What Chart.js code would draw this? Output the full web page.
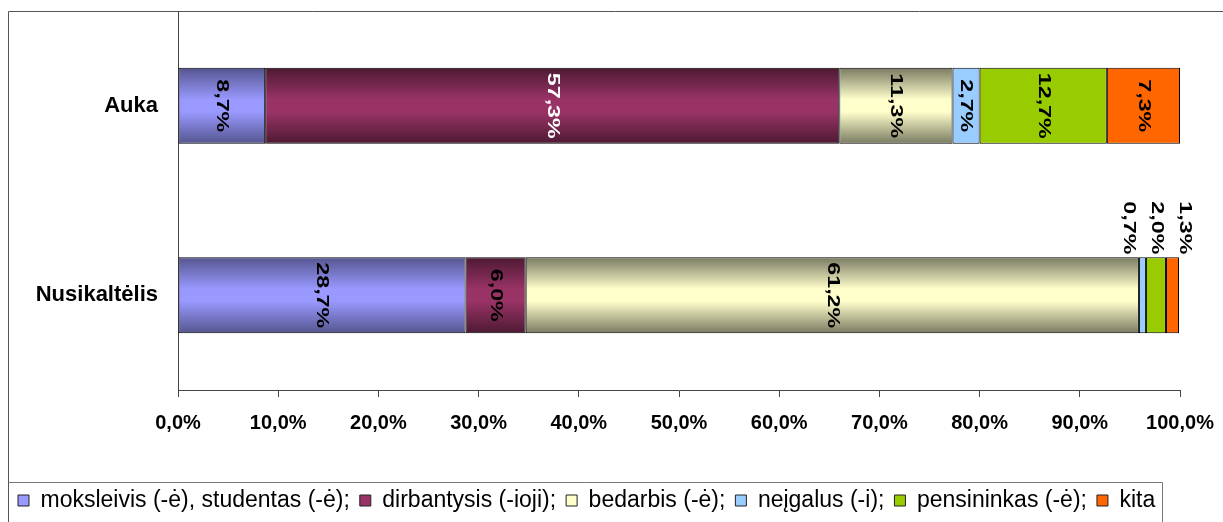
<!DOCTYPE html>
<html>
<head>
<meta charset="utf-8">
<script src="https://cdn.jsdelivr.net/npm/chart.js@4.4.1/dist/chart.umd.min.js"></script>
<style>
  html, body { margin: 0; padding: 0; background: #fff; }
  canvas { display: block; }
</style>
</head>
<body>
<canvas id="bar-chart" width="1223" height="522"></canvas>
<script>
const categories = ["Auka", "Nusikaltėlis"];
const seriesNames = [
  "moksleivis (-ė), studentas (-ė)",
  "dirbantysis (-ioji)",
  "bedarbis (-ė)",
  "neįgalus (-i)",
  "pensininkas (-ė)",
  "kita"
];
const moksleivis = [8.7, 28.7];
const dirbantysis = [57.3, 6.0];
const bedarbis = [11.3, 61.2];
const neigalus = [2.7, 0.7];
const pensininkas = [12.7, 2.0];
const kita = [7.3, 1.3];
const xTicks = [0, 10, 20, 30, 40, 50, 60, 70, 80, 90, 100];

const FONT = "'Liberation Sans', Arial, sans-serif";
// base colour + darker edge colour for the shaded bars (null = flat)
const colors = ["#9999FF", "#993366", "#FFFFCC", "#99CCFF", "#99CC00", "#FF6600"];
const edges = ["#55558f", "#4d1a33", "#7a7a62", null, null, null];

function fmt(v) {
  return v.toFixed(1).replace('.', ',') + '%';
}

function shaded(i) {
  return function (ctx) {
    const chart = ctx.chart;
    const y = chart.scales.y;
    if (!edges[i] || !y || !chart.chartArea) return colors[i];
    const c = y.getPixelForValue(ctx.dataIndex);
    const h = (y.height / categories.length) * 0.4;
    const g = chart.ctx.createLinearGradient(0, c - h / 2, 0, c + h / 2);
    g.addColorStop(0, edges[i]);
    g.addColorStop(0.42, colors[i]);
    g.addColorStop(0.58, colors[i]);
    g.addColorStop(1, edges[i]);
    return g;
  };
}

// frame round the chart and box round the legend
const framePlugin = {
  id: 'frame',
  beforeDraw(chart) {
    const c = chart.ctx;
    c.save();
    c.fillStyle = '#fff';
    c.fillRect(0, 0, chart.width, chart.height);
    c.strokeStyle = '#555';
    c.lineWidth = 1;
    c.beginPath();
    c.moveTo(8.5, chart.height);
    c.lineTo(8.5, 11.5);
    c.lineTo(chart.width, 11.5);
    c.stroke();
    c.strokeStyle = '#777';
    c.beginPath();
    c.moveTo(8.5, 482.5);
    c.lineTo(1162.5, 482.5);
    c.lineTo(1162.5, chart.height);
    c.stroke();
    c.restore();
  }
};

// rotated value labels
const labelPlugin = {
  id: 'valueLabels',
  afterDatasetsDraw(chart) {
    const c = chart.ctx;
    c.save();
    c.font = 'bold 17px ' + FONT;
    c.textBaseline = 'middle';
    categories.forEach((cat, idx) => {
      const small = [];
      chart.data.datasets.forEach((ds, di) => {
        const bar = chart.getDatasetMeta(di).data[idx];
        const v = ds.data[idx];
        const w = Math.abs(bar.x - bar.base);
        if (w < 24) {
          small.push({ bar, v });
          return;
        }
        const cx = (bar.x + bar.base) / 2;
        c.fillStyle = (di === 1 && w > 100) ? '#fff' : '#000';
        c.save();
        c.translate(cx, bar.y);
        c.rotate(Math.PI / 2);
        c.scale(1.37, 1);
        c.textAlign = 'center';
        c.fillText(fmt(v), 0, 0);
        c.restore();
      });
      if (small.length) {
        const mid = small.reduce((s, o) => s + (o.bar.x + o.bar.base) / 2, 0) / small.length;
        small.forEach((o, k) => {
          const x = mid + (k - (small.length - 1) / 2) * 28;
          const top = o.bar.y - o.bar.height / 2 - 3;
          c.fillStyle = '#000';
          c.save();
          c.translate(x, top);
          c.rotate(Math.PI / 2);
          c.scale(1.37, 1);
          c.textAlign = 'right';
          c.fillText(fmt(o.v), 0, 0);
          c.restore();
        });
      }
    });
    c.restore();
  }
};

const seriesData = [moksleivis, dirbantysis, bedarbis, neigalus, pensininkas, kita];

new Chart(document.getElementById('bar-chart'), {
  type: 'bar',
  data: {
    labels: categories,
    datasets: seriesNames.map((name, i) => ({
      label: name,
      data: seriesData[i],
      backgroundColor: shaded(i),
      borderColor: '#000',
      borderWidth: 1,
      borderSkipped: false,
      barPercentage: 0.4,
      categoryPercentage: 1
    }))
  },
  options: {
    indexAxis: 'y',
    responsive: false,
    animation: false,
    devicePixelRatio: 1,
    layout: { padding: { left: 8, top: 11, right: 43, bottom: 0 } },
    scales: {
      x: {
        stacked: true,
        min: 0,
        max: 100,
        afterBuildTicks(scale) {
          scale.ticks = xTicks.map(v => ({ value: v }));
        },
        afterFit(scale) {
          scale.height = 89;
          scale.paddingLeft = 0;
          scale.paddingRight = 0;
        },
        ticks: {
          callback: v => fmt(v),
          color: '#000',
          font: { family: FONT, size: 20, weight: 'bold' },
          padding: 14,
          maxRotation: 0,
          autoSkip: false
        },
        grid: { drawOnChartArea: false, drawTicks: true, tickLength: 7, color: '#444' },
        border: { display: true, color: '#444' }
      },
      y: {
        stacked: true,
        afterFit(scale) {
          scale.width = 170;
          scale.paddingTop = 0;
          scale.paddingBottom = 0;
        },
        ticks: {
          color: '#000',
          font: { family: FONT, size: 22, weight: 'bold' },
          padding: 20
        },
        grid: { display: false, drawTicks: false },
        border: { display: true, color: '#444' }
      }
    },
    plugins: {
      tooltip: { enabled: false },
      legend: {
        position: 'bottom',
        align: 'start',
        labels: {
          color: '#000',
          font: { family: FONT, size: 23 },
          boxWidth: 11,
          boxHeight: 11,
          padding: 10,
          generateLabels(chart) {
            return chart.data.datasets.map((ds, i) => ({
              text: ds.label + (i < chart.data.datasets.length - 1 ? ';' : ''),
              fillStyle: colors[i],
              strokeStyle: '#222',
              lineWidth: 1,
              hidden: false,
              datasetIndex: i
            }));
          }
        }
      }
    }
  },
  plugins: [framePlugin, labelPlugin]
});
</script>
</body>
</html>
